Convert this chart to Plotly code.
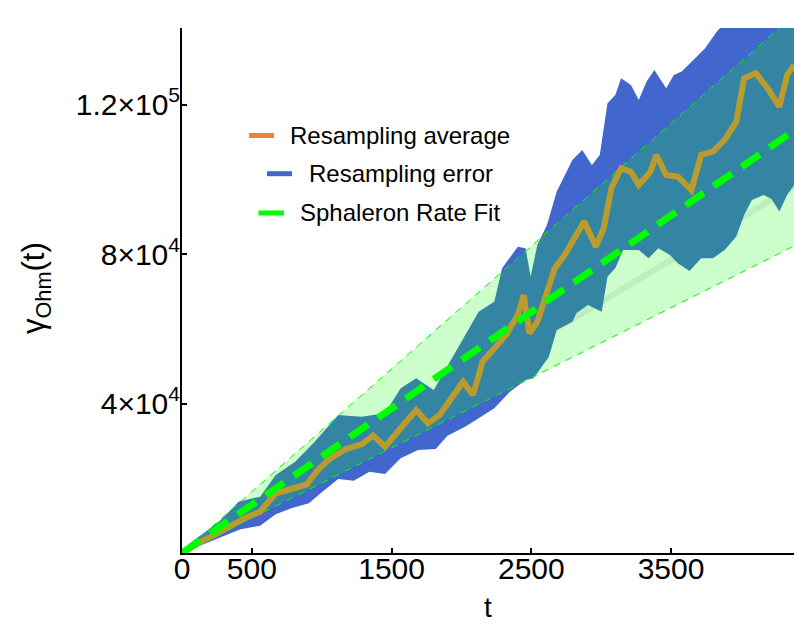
import plotly.graph_objects as go

# ---------------- data ----------------
# resampling error band: upper edge
t_up = [0, 56, 168, 279, 405, 559, 671, 810, 950, 1118, 1285, 1453, 1565, 1676, 1802,
        1984, 2123, 2235, 2291, 2403, 2459, 2495, 2543, 2612, 2682, 2794, 2864, 2934,
        2990, 3045, 3101, 3143, 3213, 3269, 3325, 3381, 3465, 3520, 3576, 3660, 3744,
        3828, 3912, 4051, 4191, 4381]
v_up = [0, 2586, 5708, 8830, 13736, 15074, 20872, 24440, 29792, 36928, 36482, 37374, 44064,
        46740, 43618, 55660, 64580, 67256, 76176, 81974, 81528, 73946, 82420, 87772, 96692,
        105166, 107842, 103828, 106504, 120330, 122560, 127020, 125236, 121222, 126128,
        129250, 124344, 127912, 128804, 131926, 135048, 139508, 143076, 145752, 147536, 149320]

# resampling error band: lower edge
t_lo = [0, 168, 279, 419, 559, 671, 782, 908, 992, 1118, 1229, 1341, 1453, 1565, 1690, 1816,
        1900, 2026, 2123, 2235, 2347, 2459, 2515, 2626, 2682, 2794, 2822, 2906, 3004, 3045,
        3101, 3157, 3269, 3339, 3409, 3493, 3548, 3632, 3716, 3800, 3884, 3967, 4023, 4079,
        4163, 4219, 4275, 4331, 4381]
v_lo = [0, 2586, 4370, 6332, 7314, 10346, 11952, 13290, 15966, 19802, 19356, 21764, 21140,
        25332, 27562, 27830, 31398, 33806, 36036, 38712, 43172, 46294, 46740, 52538, 59674,
        61904, 64134, 66364, 64580, 73946, 76176, 81082, 81082, 78852, 81528, 79744, 77514,
        75462, 78852, 78852, 81082, 84650, 90448, 94462, 95800, 94730, 91340, 95800, 98476]

# resampling average
t_avg = [0, 112, 224, 335, 447, 559, 671, 782, 894, 978, 1062, 1173, 1285, 1369, 1453, 1565,
         1676, 1760, 1844, 1928, 2012, 2082, 2151, 2235, 2319, 2403, 2445, 2487, 2543, 2598,
         2668, 2738, 2794, 2878, 2962, 3018, 3073, 3143, 3213, 3269, 3353, 3395, 3465, 3548,
         3646, 3716, 3800, 3884, 3967, 4023, 4107, 4191, 4275, 4331, 4381]
v_avg = [0, 2586, 4638, 7046, 9276, 11060, 15966, 17126, 18374, 22476, 25332, 27830, 29082,
         31398, 28456, 33360, 38266, 34698, 36928, 41388, 45848, 42280, 51200, 54768, 58336,
         63688, 69040, 58782, 61904, 68148, 76176, 79744, 83312, 88664, 81974, 86880, 97584,
         102936, 102044, 98476, 102044, 106504, 101152, 100706, 97138, 106504, 107396,
         110518, 115424, 127020, 128358, 124344, 119438, 127912, 130588]

# sphaleron rate fit (rate and its uncertainty) and faint reference line
t_fit = [0, 4400]
fit_rate = 25.8
fit_err = 7.05
ref_rate = 22.4

x_ticks = [0, 500, 1500, 2500, 3500]
x_ticklabels = ["0", "500", "1500", "2500", "3500"]
y_ticks = [40000, 80000, 120000]
y_ticklabels = ["4×10<sup>4</sup>", "8×10<sup>4</sup>", "1.2×10<sup>5</sup>"]

legend_names = ["Resampling average", "Resampling error", "Sphaleron Rate Fit"]

# ---------------- styling ----------------
BLUE = "#4166CE"
ORANGE = "#E8833A"
GREEN = "#00FF00"
FONT = "Liberation Sans, Arial, sans-serif"

W, H = 794, 625
ML, MR, MT, MB = 182, 0, 28, 72
PW, PH = W - ML - MR, H - MT - MB


def xp(px):
    return (px - ML) / PW


def yp(py):
    return (H - MB - py) / PH


fit_c = [fit_rate * t for t in t_fit]
fit_u = [(fit_rate + fit_err) * t for t in t_fit]
fit_l = [(fit_rate - fit_err) * t for t in t_fit]
ref_line = [ref_rate * t for t in t_fit]

fig = go.Figure()

fig.add_trace(go.Scatter(x=t_fit, y=ref_line, mode="lines",
                         line=dict(color="rgba(110,110,110,0.14)", width=6),
                         hoverinfo="skip", showlegend=False))
fig.add_trace(go.Scatter(x=t_lo, y=v_lo, mode="lines", line=dict(width=0, color=BLUE),
                         showlegend=False))
fig.add_trace(go.Scatter(x=t_up, y=v_up, mode="lines", line=dict(width=0, color=BLUE),
                         fill="tonexty", fillcolor=BLUE, name=legend_names[1],
                         showlegend=False))
fig.add_trace(go.Scatter(x=t_avg, y=v_avg, mode="lines", line=dict(width=6, color=ORANGE),
                         name=legend_names[0], showlegend=False))
fig.add_trace(go.Scatter(x=t_fit, y=fit_l, mode="lines",
                         line=dict(width=1, color=GREEN, dash="7px,6px"),
                         showlegend=False))
fig.add_trace(go.Scatter(x=t_fit, y=fit_u, mode="lines",
                         line=dict(width=1, color=GREEN, dash="7px,6px"),
                         fill="tonexty", fillcolor="rgba(0,255,0,0.2)",
                         showlegend=False))
fig.add_trace(go.Scatter(x=t_fit, y=fit_c, mode="lines",
                         line=dict(width=7, color=GREEN, dash="22px,12px"),
                         name=legend_names[2], showlegend=False))

# manual legend (matches the centred Mathematica legend)
leg = [
    (249, 274, 135.5, ORANGE, 288, legend_names[0]),
    (267, 292, 173.7, BLUE, 307, legend_names[1]),
    (258.5, 284, 213, GREEN, 298, legend_names[2]),
]
shapes = []
annotations = []
for x0, x1, yy, col, tx, name in leg:
    shapes.append(dict(type="line", xref="paper", yref="paper",
                       x0=xp(x0), x1=xp(x1), y0=yp(yy), y1=yp(yy),
                       line=dict(color=col, width=5)))
    annotations.append(dict(xref="paper", yref="paper", x=xp(tx), y=yp(yy),
                            xanchor="left", yanchor="middle", showarrow=False,
                            text=name, font=dict(family=FONT, size=24, color="black")))

# axis titles
annotations.append(dict(xref="paper", yref="paper", x=xp(36), y=yp(288),
                        xanchor="center", yanchor="middle", showarrow=False,
                        textangle=-90, text="γ<sub>Ohm</sub>(t)",
                        font=dict(family=FONT, size=31, color="black")))
annotations.append(dict(xref="paper", yref="paper", x=xp(488), y=yp(625),
                        xanchor="center", yanchor="bottom", showarrow=False,
                        text="t", font=dict(family=FONT, size=28, color="black")))

fig.update_layout(
    width=W, height=H,
    margin=dict(l=ML, r=MR, t=MT, b=MB, pad=0),
    paper_bgcolor="white", plot_bgcolor="white",
    showlegend=False,
    shapes=shapes, annotations=annotations,
    font=dict(family=FONT, color="black"),
)
fig.update_xaxes(range=[0, 4380], showgrid=False, zeroline=False,
                 showline=True, linecolor="black", linewidth=2,
                 ticks="inside", ticklen=5, tickwidth=1.5, tickcolor="black",
                 tickvals=x_ticks, ticktext=x_ticklabels, ticklabelstandoff=-12,
                 tickfont=dict(family=FONT, size=30, color="black"))
fig.update_yaxes(range=[0, 140470], showgrid=False, zeroline=False,
                 showline=True, linecolor="black", linewidth=2,
                 ticks="inside", ticklen=5, tickwidth=1.5, tickcolor="black",
                 tickvals=y_ticks, ticktext=y_ticklabels, ticklabelstandoff=-6,
                 tickfont=dict(family=FONT, size=30, color="black"))

fig.write_html("out.html")
